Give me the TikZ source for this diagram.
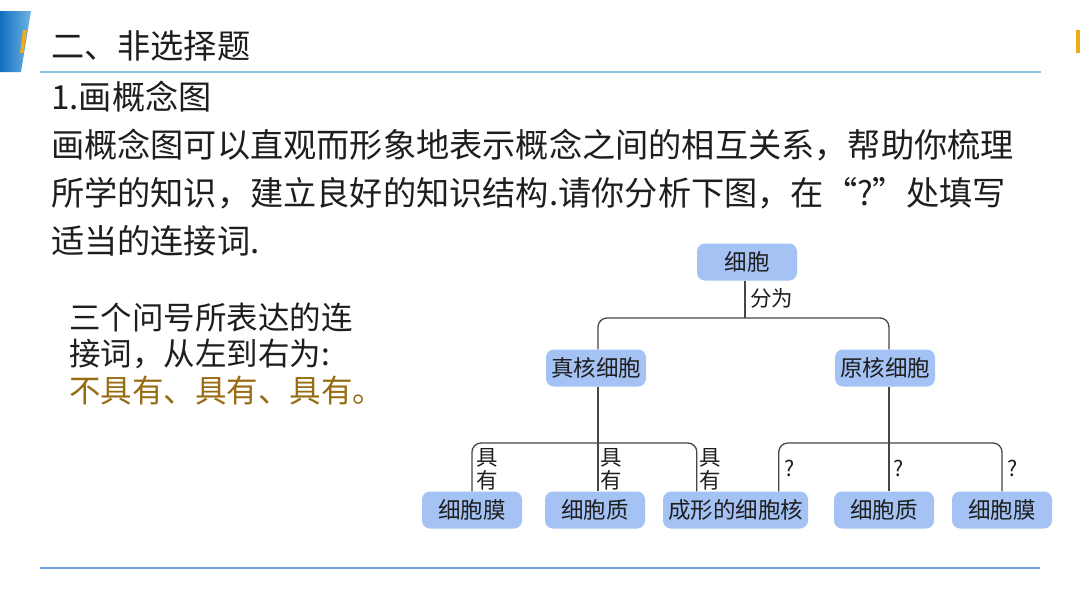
\documentclass[tikz,border=0pt]{standalone}
\usepackage{fontspec}
\setmainfont{Noto Sans CJK SC}
\usetikzlibrary{calc}
\definecolor{nodefill}{RGB}{164,194,244}
\definecolor{linecol}{RGB}{140,196,222}
\definecolor{anscol}{RGB}{152,108,18}
\definecolor{txt}{RGB}{30,30,30}
\definecolor{conncol}{RGB}{70,70,70}
\definecolor{blueA}{RGB}{20,110,190}
\definecolor{blueB}{RGB}{110,180,230}
\definecolor{orangeA}{RGB}{240,170,20}
\tikzset{
  cbox/.style={draw=none, fill=nodefill, rounded corners=8pt, minimum height=37pt, minimum width=100pt, inner sep=2pt, font=\fontsize{22.5}{26}\selectfont, text=txt},
  conn/.style={draw=conncol, line width=1.3pt, rounded corners=9pt},
  lab/.style={font=\fontsize{21.5}{23}\selectfont, text=txt, inner sep=0pt, anchor=west, align=left},
  body/.style={font=\fontsize{33.2}{36}\selectfont, text=txt, anchor=west, inner sep=0pt},
  side/.style={font=\fontsize{31.5}{36}\selectfont, anchor=west, inner sep=0pt},
}
\begin{document}
\begin{tikzpicture}[x=1pt,y=-1pt]
\useasboundingbox (0,0) rectangle (1080,608);
\fill[white] (0,0) rectangle (1080,608);
% header decoration
\shade[left color=blueA, right color=blueB] (0,11) -- (31,11) -- (21,72) -- (0,72) -- cycle;
\fill[orangeA] (23,30) -- (27,30) -- (23.5,53) -- (20,53) -- cycle;
\fill[orangeA] (1076,30) rectangle (1080,53);
\draw[linecol, line width=1.5pt] (40,72) -- (1041,72);
\draw[linecol!80!blue, line width=1.2pt] (40,568) -- (1040,568);
% text
\node[body] (t0) at (51,46) {二、非选择题};
\node[body] (t1) at (51,97) {1.画概念图};
\node[body] (t2) at (51,145) {画概念图可以直观而形象地表示概念之间的相互关系，帮助你梳理};
\node[body] (t3) at (51,193) {所学的知识，建立良好的知识结构.请你分析下图，在“?”处填写};
\node[body] (t4) at (51,241) {适当的连接词.};
\node[side, text=txt] (s1) at (69,317) {三个问号所表达的连};
\node[side, text=txt] (s2) at (69,354) {接词，从左到右为:};
\node[side, text=anscol] (s3) at (69,391) {不具有、具有、具有。};
% diagram nodes
\node[cbox] (root) at (747,262) {细胞};
\node[cbox] (euk) at (596,368) {真核细胞};
\node[cbox] (pro) at (885,368) {原核细胞};
\node[cbox] (b1) at (472,510) {细胞膜};
\node[cbox] (b2) at (595,510) {细胞质};
\node[cbox, minimum width=145pt] (b3) at (735.5,510) {成形的细胞核};
\node[cbox] (b4) at (884,510) {细胞质};
\node[cbox] (b5) at (1002,510) {细胞膜};
\coordinate (j1) at (745,318);
\coordinate (j2) at (598,443);
\coordinate (j3) at (889,443);
% connectors
\draw[conn] (root.south -| j1) -- (j1);
\draw[conn] (euk.north -| j2) |- (j1) -| (pro.north -| j3);
\draw[conn] (euk.south -| j2) -- (b2.north -| j2);
\draw[conn] (b1.north) |- (j2) -| ($(b3.north west)+(34,0)$);
\draw[conn] (pro.south -| j3) -- (b4.north -| j3);
\draw[conn] ($(b4.north west)+(-55,0)$) |- (j3) -| (b5.north);
% labels
\node[lab] (l0) at (750,298) {分为};
\node[lab] (l1) at (476,469) {具\\有};
\node[lab] (l2) at (600,469) {具\\有};
\node[lab] (l3) at (699,469) {具\\有};
\node[lab] (l4) at (784,468) {?};
\node[lab] (l5) at (893,468) {?};
\node[lab] (l6) at (1007,468) {?};
\end{tikzpicture}
\end{document}
